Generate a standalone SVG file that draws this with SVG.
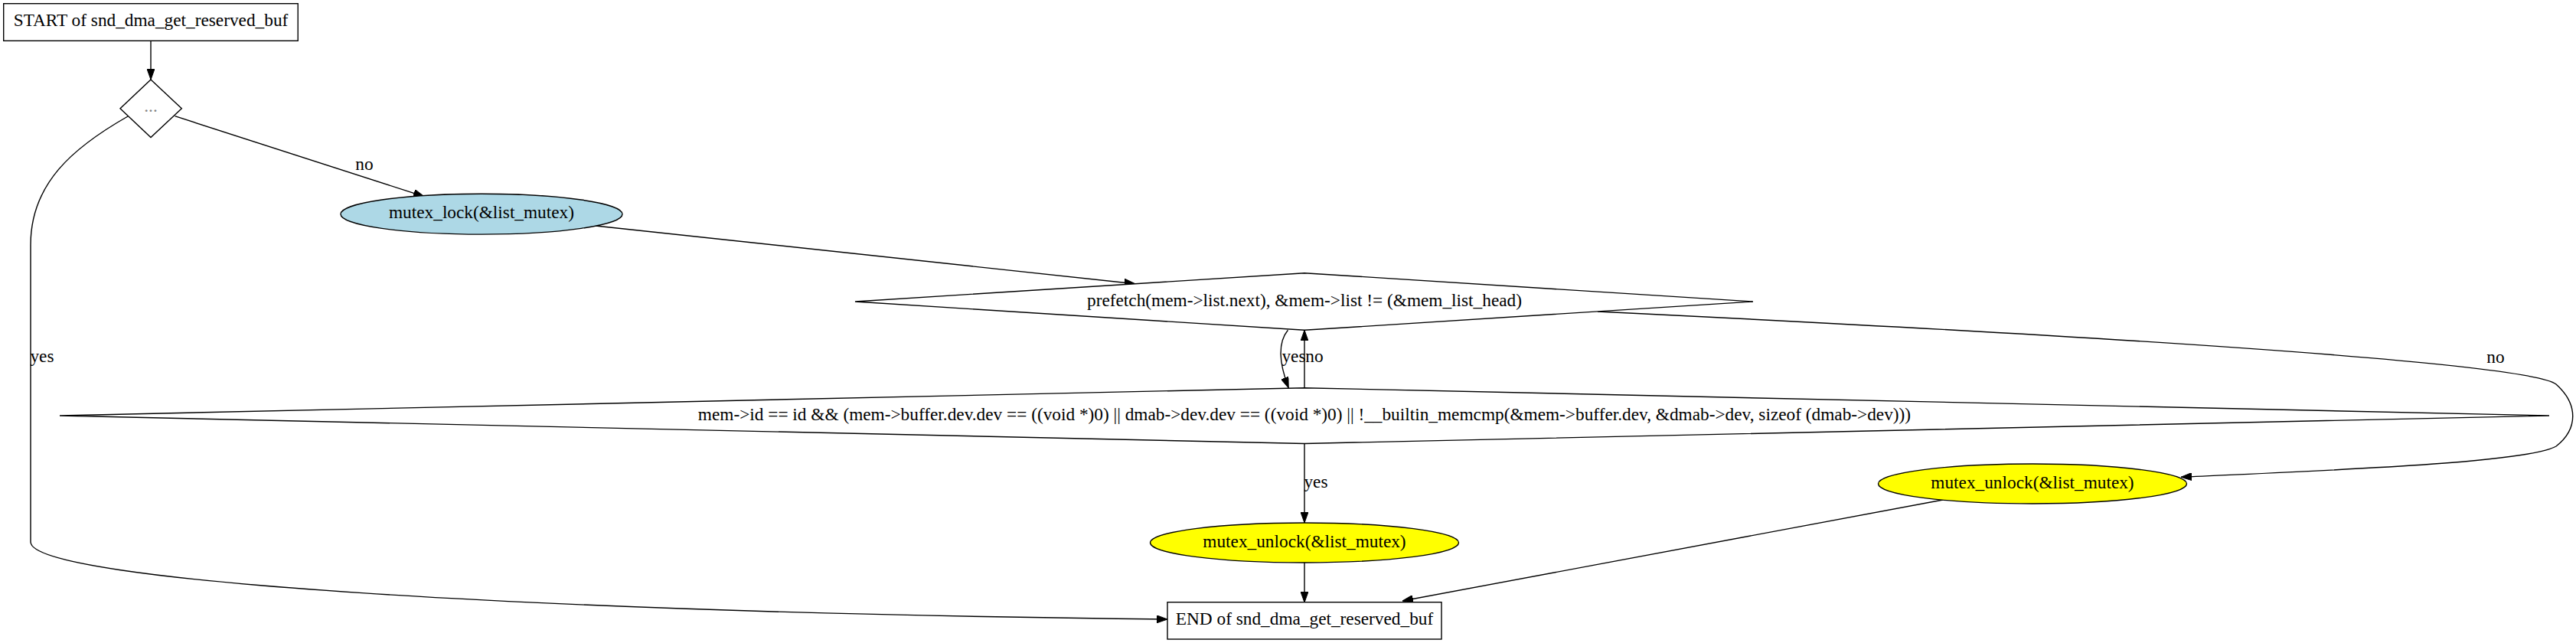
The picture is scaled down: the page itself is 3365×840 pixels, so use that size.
<svg xmlns="http://www.w3.org/2000/svg" width="3365" height="840" viewBox="0 0 3365 840">
<style>
  .bg { fill: #ffffff; }
  .shape { stroke: #000000; stroke-width: 1.4; fill: #ffffff; }
  .lock { fill: #add8e6; }
  .unlock { fill: #ffff00; }
  .lbl { font-family: "Liberation Serif", "Times New Roman", serif; font-size: 23.3px; fill: #000000; text-anchor: middle; }
  .dim { fill: #808080; }
  .edge { stroke: #000000; stroke-width: 1.4; fill: none; marker-end: url(#arrow); }
</style>
<defs>
  <marker id="arrow" markerUnits="userSpaceOnUse" markerWidth="14" markerHeight="10" viewBox="0 0 14 10" refX="14" refY="5" orient="auto">
    <path d="M0,0 L14,5 L0,10 z" fill="#000000" stroke="#000000" stroke-width="1"/>
  </marker>
</defs>
<rect class="bg" x="0" y="0" width="3365" height="840"/>

<g id="connectors">
  <path class="edge" d="M197,53.3 L197,104"/>
  <path class="edge" d="M228.5,151.7 L554,256.7"/>
  <path class="edge" d="M778,295 L1482.6,370.7"/>
  <path class="edge" d="M167,152 C95,193 40,240 40,320 L40,708 C40,760 700,800 1525,809"/>
  <path class="edge" d="M1682.4,431.3 C1667,450 1673,480 1683.2,506.7"/>
  <path class="edge" d="M1704,506.7 L1704,431.3"/>
  <path class="edge" d="M2087,407 C2600,432 3300,470 3339,502 C3368,528 3368,560 3339,583 C3300,606 3000,616 2849,623.3"/>
  <path class="edge" d="M1704,579.5 L1704,683"/>
  <path class="edge" d="M1704,735 L1704,787"/>
  <path class="edge" d="M2538,653 L1832,785"/>
  <text class="lbl" x="476" y="222">no</text>
  <text class="lbl" x="55" y="473">yes</text>
  <text class="lbl" x="1690" y="473">yes</text>
  <text class="lbl" x="1717" y="473">no</text>
  <text class="lbl" x="3260" y="474">no</text>
  <text class="lbl" x="1719" y="637">yes</text>
</g>

<g id="start">
  <rect class="shape" x="4.7" y="4.7" width="384.5" height="48.6"/>
  <text class="lbl" x="197" y="34">START of snd_dma_get_reserved_buf</text>
</g>

<g id="decision0">
  <polygon class="shape" points="197,104 237.3,141.7 197,179.5 157,141.7"/>
  <text class="lbl dim" x="197" y="145.5">...</text>
</g>

<g id="mutex_lock">
  <ellipse class="shape lock" cx="629" cy="279.7" rx="184" ry="26.4"/>
  <text class="lbl" x="629" y="285">mutex_lock(&amp;list_mutex)</text>
</g>

<g id="loop_cond">
  <polygon class="shape" points="1704,356.7 2290,394 1704,431.3 1117,394"/>
  <text class="lbl" x="1704" y="400">prefetch(mem-&gt;list.next), &amp;mem-&gt;list != (&amp;mem_list_head)</text>
</g>

<g id="match_cond">
  <polygon class="shape" points="1704,506.7 3330,543 1704,579.5 78,543"/>
  <text class="lbl" x="1704" y="549">mem-&gt;id == id &amp;&amp; (mem-&gt;buffer.dev.dev == ((void *)0) || dmab-&gt;dev.dev == ((void *)0) || !__builtin_memcmp(&amp;mem-&gt;buffer.dev, &amp;dmab-&gt;dev, sizeof (dmab-&gt;dev)))</text>
</g>

<g id="mutex_unlock_found">
  <ellipse class="shape unlock" cx="1704" cy="709" rx="201.5" ry="26"/>
  <text class="lbl" x="1704" y="714.5">mutex_unlock(&amp;list_mutex)</text>
</g>

<g id="mutex_unlock_end">
  <ellipse class="shape unlock" cx="2655" cy="632" rx="201.5" ry="26"/>
  <text class="lbl" x="2655" y="637.5">mutex_unlock(&amp;list_mutex)</text>
</g>

<g id="end">
  <rect class="shape" x="1525" y="786.7" width="358" height="48.3"/>
  <text class="lbl" x="1704" y="815.5">END of snd_dma_get_reserved_buf</text>
</g>
</svg>
